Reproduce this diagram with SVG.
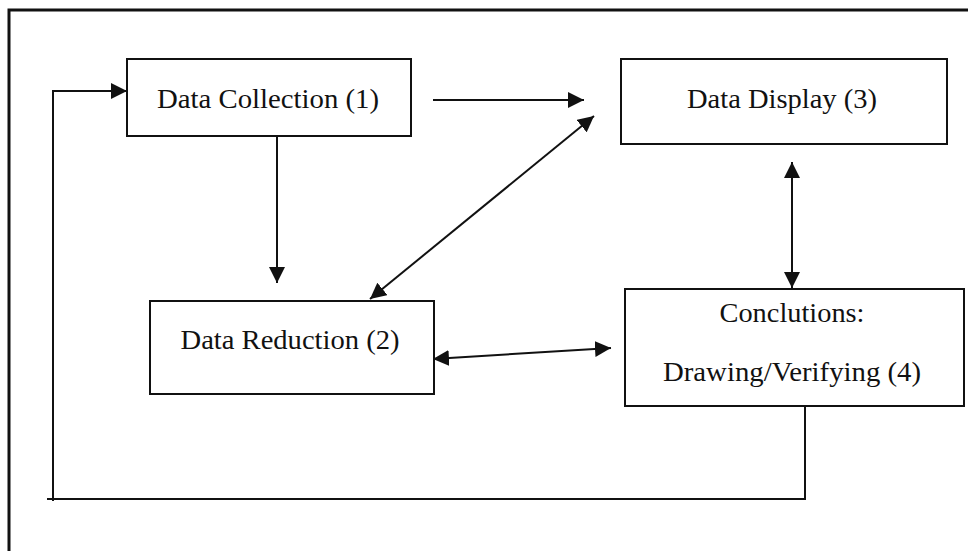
<svg xmlns="http://www.w3.org/2000/svg" width="968" height="551" viewBox="0 0 968 551">
<style>
.box{fill:#fff;stroke:#111;stroke-width:2}
.lbl{font-family:"Liberation Serif","Times New Roman",serif;font-size:27px;fill:#111;text-anchor:middle}
.ln{fill:none;stroke:#111;stroke-width:2}
.end{marker-end:url(#ah)}
.both{marker-start:url(#ah);marker-end:url(#ah)}
</style>
<defs>
<marker id="ah" markerUnits="userSpaceOnUse" markerWidth="17" markerHeight="16" refX="16" refY="8" orient="auto-start-reverse">
<path d="M0,0 L16,8 L0,16 z" fill="#111"/>
</marker>
</defs>
<rect width="968" height="551" fill="#fff"/>
<path d="M9,560 V10 H980" fill="none" stroke="#111" stroke-width="3"/>
<g id="connectors">
<path class="ln end" d="M433,100 H584"/>
<path class="ln end" d="M277,136 V283"/>
<path class="ln both" d="M370,299 L594,116"/>
<path class="ln both" d="M792,162 V288"/>
<path class="ln both" d="M433,359 L611,348"/>
<path class="ln" d="M805,406 V500 M806,499 H47"/>
<path class="ln end" d="M53,501 V91 H127"/>
</g>
<g id="node1">
<rect class="box" x="127" y="59" width="284" height="77"/>
<text class="lbl" x="268" y="108" textLength="222" lengthAdjust="spacingAndGlyphs">Data Collection (1)</text>
</g>
<g id="node3">
<rect class="box" x="621" y="59" width="326" height="85"/>
<text class="lbl" x="782" y="108" textLength="190" lengthAdjust="spacingAndGlyphs">Data Display (3)</text>
</g>
<g id="node2">
<rect class="box" x="150" y="301" width="284" height="93"/>
<text class="lbl" x="290" y="349" textLength="219" lengthAdjust="spacingAndGlyphs">Data Reduction (2)</text>
</g>
<g id="node4">
<rect class="box" x="625" y="289" width="339" height="117"/>
<text class="lbl" x="792" y="322" textLength="145" lengthAdjust="spacingAndGlyphs">Conclutions:</text>
<text class="lbl" x="792" y="381" textLength="258" lengthAdjust="spacingAndGlyphs">Drawing/Verifying (4)</text>
</g>
</svg>
